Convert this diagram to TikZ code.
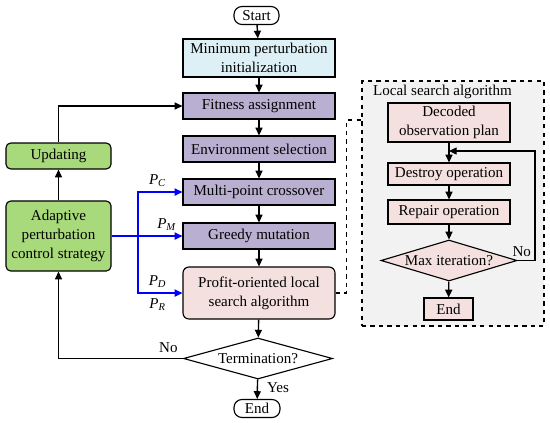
\documentclass[tikz,border=0pt]{standalone}
\usepackage{fontspec}
\setmainfont{Liberation Serif}
\usetikzlibrary{shapes.geometric,arrows.meta}
\definecolor{initblue}{HTML}{DDF0F5}
\definecolor{gapurple}{HTML}{B9AFD0}
\definecolor{lspink}{HTML}{F3E0DF}
\definecolor{ctrlgreen}{HTML}{A8D97A}
\definecolor{lsgray}{HTML}{F2F2F2}
\tikzset{
  box/.style={draw,line width=0.8pt,minimum width=3.8cm,minimum height=0.65cm,align=center,inner sep=1pt},
  term/.style={draw,line width=0.8pt,rounded corners=0.2cm,minimum height=0.45cm,inner sep=1pt},
  ctrl/.style={draw,line width=0.8pt,fill=ctrlgreen,rounded corners=0.12cm,minimum width=2.625cm,align=center,inner sep=1pt},
  lsbox/.style={draw,line width=0.8pt,fill=lspink,minimum width=3.05cm,align=center,inner sep=1pt},
  decide/.style={draw,line width=0.8pt,diamond,aspect=3.6,inner sep=0pt},
  plabel/.style={text=black}
}
\begin{document}
\begin{tikzpicture}[>={Triangle[length=5.5pt,width=5pt]},x=0.025cm,y=-0.025cm,line width=1pt,font=\fontsize{10.7}{13.3}\selectfont]
\useasboundingbox (0,0) rectangle (550,422);
% local search block
\node[draw,dashed,line width=0.9pt,fill=lsgray,minimum width=4.55cm,minimum height=6.125cm] (ls) at (453,203.5) {};
\node (lstitle) at (442.5,92) {Local search algorithm};
\node[lsbox,minimum height=0.975cm] (dec) at (449,122.5) {Decoded\\observation plan};
\node[lsbox,minimum height=0.55cm] (destroy) at (449,174) {Destroy operation};
\node[lsbox,minimum height=0.6cm] (repair) at (449,212) {Repair operation};
\node[decide,fill=lspink,minimum width=3.4cm,minimum height=1.025cm] (maxit) at (449,260.5) {Max iteration?};
\node[lsbox,minimum width=1.225cm,minimum height=0.55cm] (lend) at (448.5,309) {End};
\draw[->](dec)--(destroy);
\draw[->](destroy)--(repair);
\draw[->](repair)--(maxit);
\draw[->](maxit)--(lend);
\coordinate (back) at (535,151);
\draw[->](maxit.east)node[above,xshift=3pt,yshift=-1pt]{No}-|(back)--(dec.south|-back);

% main flow
\node[term,minimum width=1.125cm] (start) at (256.5,15.5) {Start};
\node[box,fill=initblue,minimum height=0.95cm] (init) at (259,58) {Minimum perturbation\\initialization};
\node[box,fill=gapurple] (fit) at (259,106) {Fitness assignment};
\node[box,fill=gapurple] (env) at (259,149) {Environment selection};
\node[box,fill=gapurple] (cross) at (259,192) {Multi-point crossover};
\node[box,fill=gapurple] (mut) at (259,236) {Greedy mutation};
\node[box,fill=lspink,rounded corners=0.15cm,minimum height=1.3cm] (profit) at (259,293) {Profit-oriented local\\search algorithm};
\node[decide,minimum width=3.725cm,minimum height=1.025cm] (term) at (258,358.5) {Termination?};
\node[term,minimum width=1.15cm] (end) at (257,408.5) {End};
\draw[->](start)--(init);
\draw[->](init)--(fit);
\draw[->](fit)--(env);
\draw[->](env)--(cross);
\draw[->](cross)--(mut);
\draw[->](mut)--(profit);
\draw[->](profit)--(term);
\draw[->](term)--node[right,pos=0.4,xshift=3pt]{Yes}(end);

% adaptive control
\node[ctrl,minimum height=0.65cm] (upd) at (58.5,156) {Updating};
\node[ctrl,minimum height=1.75cm] (adapt) at (58.5,236) {Adaptive\\perturbation\\control strategy};
\draw[->](adapt)--(upd);
\draw[->](upd)|-(fit);
\draw[->](term.west)node[above left]{No}-|(adapt.south);
\coordinate (bus) at (138,236);
\draw[->,blue,line width=1.2pt](adapt)--node[pos=0.78,above,plabel]{\textit{P}\textsubscript{\textit{M}}}(mut);
\draw[->,blue,line width=1.2pt](bus)|-node[pos=0.72,above,plabel]{\textit{P}\textsubscript{\textit{C}}}(cross);
\draw[->,blue,line width=1.2pt](bus)|-node[pos=0.72,above,plabel]{\textit{P}\textsubscript{\textit{D}}}node[pos=0.72,below,plabel]{\textit{P}\textsubscript{\textit{R}}}(profit);
\coordinate (lsin) at (ls.west|-0,120);
\draw[dashed,line width=0.9pt](profit.east)--++(11,0)|-(lsin);
\end{tikzpicture}
\end{document}
